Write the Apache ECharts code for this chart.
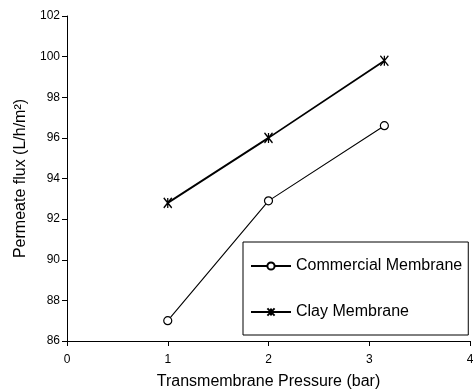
<!DOCTYPE html>
<html>
<head>
<meta charset="utf-8">
<script src="https://cdn.jsdelivr.net/npm/echarts@6/dist/echarts.min.js"></script>
<style>
  html, body { margin: 0; padding: 0; background: #fff; }
  #chart { width: 473px; height: 390px; }
</style>
</head>
<body>
<div id="chart"></div>
<script>
// Transmembrane pressure (bar) and permeate flux (L/h/m²) for two membranes
const commercialPressure = [1, 2, 3.15];
const commercialFlux = [87.0, 92.9, 96.6];
const clayPressure = [1, 2, 3.15];
const clayFlux = [92.8, 96.0, 99.8];

const seriesNames = ['Commercial Membrane', 'Clay Membrane'];
const xTitle = 'Transmembrane Pressure (bar)';
const yTitle = 'Permeate flux (L/h/m²)';

// Asterisk marker: vertical stroke plus an X
const asterisk = 'path://M0,0L8,10M8,0L0,10M4,0L4,10';

const font = 'Liberation Sans, Arial, sans-serif';

function pairs(xs, ys) {
  return xs.map((x, i) => [x, ys[i]]);
}

const chart = echarts.init(document.getElementById('chart'), null, { renderer: 'canvas' });
chart.setOption({
  animation: false,
  backgroundColor: '#fff',
  grid: { left: 67, right: 3, top: 16, bottom: 49, containLabel: false, outerBoundsMode: 'none' },
  xAxis: {
    type: 'value', min: 0, max: 4, interval: 1,
    name: xTitle, nameLocation: 'middle', nameGap: 33,
    nameTextStyle: { fontFamily: font, fontSize: 16, color: '#000' },
    axisLine: { show: true, lineStyle: { color: '#000', width: 1 } },
    axisTick: { show: true, inside: false, length: 5, lineStyle: { color: '#000' } },
    axisLabel: { fontFamily: font, fontSize: 12, color: '#000', margin: 13 },
    splitLine: { show: false }
  },
  yAxis: {
    type: 'value', min: 86, max: 102, interval: 2,
    name: yTitle, nameLocation: 'middle', nameGap: 37,
    nameTextStyle: { fontFamily: font, fontSize: 16, color: '#000' },
    axisLine: { show: true, lineStyle: { color: '#000', width: 1 } },
    axisTick: { show: true, inside: false, length: 5, lineStyle: { color: '#000' } },
    axisLabel: { fontFamily: font, fontSize: 12, color: '#000', margin: 7 },
    splitLine: { show: false }
  },
  legend: {
    orient: 'vertical',
    left: 243, top: 242,
    padding: [16, 6, 15, 7],
    itemGap: 30,
    itemWidth: 40, itemHeight: 9,
    borderColor: '#000', borderWidth: 1,
    backgroundColor: '#fff',
    textStyle: { fontFamily: font, fontSize: 16, color: '#000' },
    data: seriesNames
  },
  series: [
    {
      name: seriesNames[0], type: 'line',
      data: pairs(commercialPressure, commercialFlux),
      symbol: 'circle', symbolSize: 8,
      lineStyle: { color: '#000', width: 1.1 },
      itemStyle: { color: '#fff', borderColor: '#000', borderWidth: 1.2 }
    },
    {
      name: seriesNames[1], type: 'line',
      data: pairs(clayPressure, clayFlux),
      symbol: asterisk, symbolSize: [8, 10],
      lineStyle: { color: '#000', width: 1.8 },
      itemStyle: { color: '#000', borderColor: '#000', borderWidth: 1.4 }
    }
  ]
});
</script>
</body>
</html>
